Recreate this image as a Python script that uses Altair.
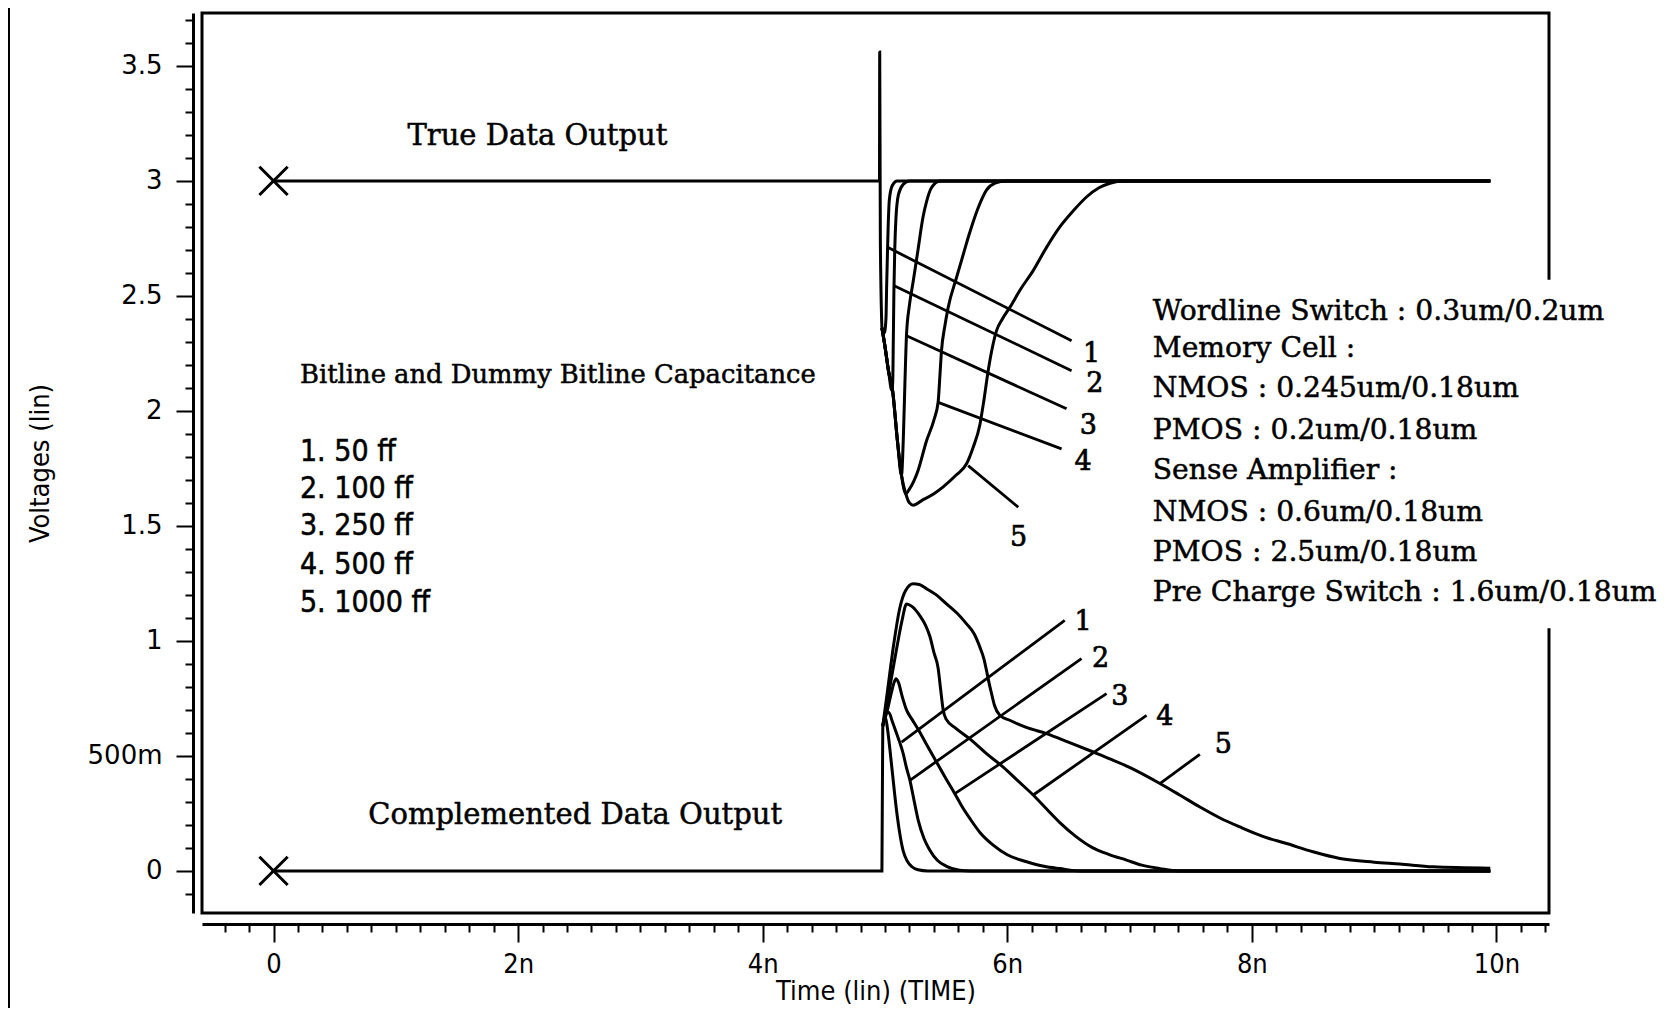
import altair as alt
import pandas as pd

# ---------------- data (time in ns, voltage in V) ----------------
TRUE_FLAT_T = [0.0, 4.955, 4.957, 4.962, 4.975]
TRUE_FLAT_V = [3.0, 3.0, 3.56, 2.75, 2.36]

TOP1_T = [4.975, 4.995, 5.008, 5.014, 5.02, 5.026, 5.036, 5.06, 5.1, 9.95]
TOP1_V = [2.36, 2.34, 2.40, 2.55, 2.68, 2.80, 2.92, 2.98, 3.0, 3.0]

TOP2_T = [4.975, 5.0, 5.03, 5.055, 5.063, 5.068, 5.073, 5.08, 5.09, 5.11, 5.15, 5.2, 9.95]
TOP2_V = [2.36, 2.28, 2.17, 2.09, 2.12, 2.30, 2.52, 2.70, 2.84, 2.94, 2.985, 3.0, 3.0]

TOP3_T = [4.975, 5.0, 5.03, 5.062, 5.1, 5.135, 5.15, 5.163, 5.176, 5.2, 5.23, 5.27,
          5.31, 5.34, 5.38, 5.45, 9.95]
TOP3_V = [2.36, 2.28, 2.17, 2.09, 1.88, 1.72, 1.88, 2.12, 2.33, 2.46, 2.56, 2.70,
          2.84, 2.91, 2.97, 3.0, 3.0]

TOP4_T = [4.975, 5.0, 5.03, 5.062, 5.1, 5.135, 5.17, 5.2, 5.27, 5.34, 5.40, 5.435,
          5.45, 5.462, 5.49, 5.517, 5.585, 5.64, 5.69, 5.76, 5.83, 5.9, 5.99, 9.95]
TOP4_V = [2.36, 2.28, 2.17, 2.09, 1.88, 1.72, 1.64, 1.66, 1.74, 1.87, 1.96, 2.04,
          2.16, 2.26, 2.37, 2.45, 2.58, 2.68, 2.77, 2.88, 2.96, 2.99, 3.0, 3.0]

TOP5_T = [4.975, 5.0, 5.03, 5.062, 5.1, 5.135, 5.17, 5.2, 5.231, 5.30, 5.40, 5.476,
          5.58, 5.667, 5.72, 5.776, 5.81, 5.844, 5.88, 5.913, 5.96, 6.021, 6.11,
          6.212, 6.32, 6.43, 6.54, 6.648, 6.75, 6.84, 6.95, 9.95]
TOP5_V = [2.36, 2.28, 2.17, 2.09, 1.88, 1.72, 1.64, 1.60, 1.59, 1.61, 1.64, 1.67,
          1.72, 1.77, 1.84, 1.94, 2.05, 2.175, 2.28, 2.35, 2.40, 2.45, 2.53,
          2.61, 2.71, 2.80, 2.87, 2.93, 2.97, 2.99, 3.0, 3.0]

COMP_FLAT_T = [0.0, 4.975, 4.982]
COMP_FLAT_V = [0.0, 0.0, 0.63]

BOT1_T = [4.982, 4.995, 5.005, 5.02, 5.04, 5.06, 5.08, 5.10, 5.125, 5.15, 5.18,
          5.22, 5.27, 5.35, 9.95]
BOT1_V = [0.63, 0.66, 0.665, 0.62, 0.53, 0.43, 0.33, 0.24, 0.15, 0.085, 0.045,
          0.018, 0.005, 0.0, 0.0]

BOT2_T = [4.982, 5.0, 5.015, 5.03, 5.06, 5.095, 5.12, 5.149, 5.175, 5.204, 5.24,
          5.272, 5.32, 5.367, 5.43, 5.503, 5.61, 5.7, 9.95]
BOT2_V = [0.63, 0.67, 0.69, 0.69, 0.65, 0.597, 0.56, 0.51, 0.45, 0.394, 0.30,
          0.22, 0.14, 0.09, 0.045, 0.02, 0.003, 0.0, 0.0]

BOT3_T = [4.982, 5.02, 5.05, 5.075, 5.09, 5.11, 5.14, 5.176, 5.22, 5.27, 5.34,
          5.42, 5.50, 5.571, 5.63, 5.694, 5.78, 5.885, 6.0, 6.158, 6.3, 6.43, 6.6, 9.95]
BOT3_V = [0.63, 0.70, 0.77, 0.82, 0.836, 0.82, 0.76, 0.70, 0.66, 0.617, 0.55,
          0.475, 0.40, 0.336, 0.28, 0.228, 0.165, 0.112, 0.07, 0.04, 0.02, 0.01, 0.0, 0.0]

BOT4_T = [4.982, 5.02, 5.06, 5.10, 5.14, 5.176, 5.22, 5.286, 5.33, 5.367, 5.40,
          5.435, 5.455, 5.476, 5.50, 5.58, 5.694, 5.83, 5.967, 6.09, 6.212, 6.32,
          6.43, 6.56, 6.70, 6.84, 6.975, 7.1, 7.25, 7.4, 9.95]
BOT4_V = [0.63, 0.74, 0.86, 0.98, 1.09, 1.161, 1.15, 1.109, 1.07, 1.02, 0.95,
          0.88, 0.79, 0.70, 0.66, 0.62, 0.574, 0.51, 0.451, 0.39, 0.33, 0.27,
          0.21, 0.15, 0.10, 0.07, 0.047, 0.025, 0.01, 0.0, 0.0]

BOT5_T = [4.982, 5.02, 5.07, 5.12, 5.17, 5.231, 5.28, 5.34, 5.42, 5.503, 5.59,
          5.667, 5.73, 5.776, 5.81, 5.83, 5.85, 5.872, 5.895, 5.939, 6.02, 6.15,
          6.321, 6.50, 6.703, 6.85, 7.0, 7.248, 7.41, 7.575, 7.74, 7.902, 8.09,
          8.284, 8.5, 8.72, 9.0, 9.21, 9.48, 9.95]
BOT5_V = [0.63, 0.78, 0.98, 1.14, 1.22, 1.248, 1.245, 1.227, 1.20, 1.161, 1.12,
          1.074, 1.03, 0.973, 0.92, 0.872, 0.82, 0.77, 0.72, 0.677, 0.655, 0.625,
          0.597, 0.56, 0.517, 0.485, 0.45, 0.38, 0.33, 0.278, 0.23, 0.191, 0.15,
          0.119, 0.083, 0.054, 0.038, 0.03, 0.018, 0.012]

# leader lines (start on curve -> end near number label)
TOP_LEAD_T0 = [5.026, 5.075, 5.176, 5.435, 5.68]
TOP_LEAD_V0 = [2.71, 2.544, 2.327, 2.037, 1.762]
TOP_LEAD_T1 = [6.526, 6.526, 6.485, 6.444, 6.09]
TOP_LEAD_V1 = [2.305, 2.175, 2.009, 1.835, 1.581]
TOP_LABEL_T = [6.689, 6.716, 6.662, 6.621, 6.092]
TOP_LABEL_V = [2.248, 2.117, 1.936, 1.777, 1.447]

BOT_LEAD_T0 = [5.136, 5.204, 5.571, 6.212, 7.248]
BOT_LEAD_V0 = [0.56, 0.394, 0.336, 0.33, 0.38]
BOT_LEAD_T1 = [6.47, 6.607, 6.812, 7.139, 7.575]
BOT_LEAD_V1 = [1.089, 0.923, 0.771, 0.676, 0.507]
BOT_LABEL_T = [6.62, 6.763, 6.921, 7.289, 7.766]
BOT_LABEL_V = [1.082, 0.922, 0.756, 0.669, 0.546]

CURVE_IDS = ["1", "2", "3", "4", "5"]

MARK_T = [0.0, 0.0]
MARK_V = [3.0, 0.0]

HEAD_TEXT = ["True Data Output", "Complemented Data Output"]
HEAD_T = [2.158, 2.467]
HEAD_V = [3.195, 0.245]

CAP_TITLE = ["Bitline and Dummy Bitline Capacitance"]
CAP_TITLE_T = [0.216]
CAP_TITLE_V = [2.155]

CAP_LIST = ["1. 50 ff", "2. 100 ff", "3. 250 ff", "4. 500 ff", "5. 1000 ff"]
CAP_LIST_T = [0.216] * 5
CAP_LIST_V = [1.822, 1.66, 1.498, 1.332, 1.165]

SIZE_TEXT = ["Wordline Switch : 0.3um/0.2um", "Memory Cell :",
             "NMOS : 0.245um/0.18um", "PMOS : 0.2um/0.18um",
             "Sense Amplifier :", "NMOS : 0.6um/0.18um",
             "PMOS  : 2.5um/0.18um", "Pre Charge Switch : 1.6um/0.18um"]
SIZE_T = [7.19] * 8
SIZE_V = [2.431, 2.271, 2.095, 1.914, 1.738, 1.558, 1.383, 1.207]

# white patch where the text block breaks the right frame line
MASK_T = [10.28]
MASK_T2 = [10.62]
MASK_V = [1.055]
MASK_V2 = [2.57]

X_TICKS = [round(-0.4 + 0.2 * i, 1) for i in range(55)]
Y_TICKS = [round(-0.1 + 0.1 * i, 1) for i in range(39)]

# ---------------- build tables ----------------
def series(name, ts, vs):
    return pd.DataFrame({"t": ts, "v": vs, "s": name, "i": list(range(len(ts)))})

curves = pd.concat([
    series("true_flat", TRUE_FLAT_T, TRUE_FLAT_V),
    series("top1", TOP1_T, TOP1_V), series("top2", TOP2_T, TOP2_V),
    series("top3", TOP3_T, TOP3_V), series("top4", TOP4_T, TOP4_V),
    series("top5", TOP5_T, TOP5_V),
    series("comp_flat", COMP_FLAT_T, COMP_FLAT_V),
    series("bot1", BOT1_T, BOT1_V), series("bot2", BOT2_T, BOT2_V),
    series("bot3", BOT3_T, BOT3_V), series("bot4", BOT4_T, BOT4_V),
    series("bot5", BOT5_T, BOT5_V),
], ignore_index=True)

leaders = pd.DataFrame({
    "t": TOP_LEAD_T0 + BOT_LEAD_T0, "v": TOP_LEAD_V0 + BOT_LEAD_V0,
    "t2": TOP_LEAD_T1 + BOT_LEAD_T1, "v2": TOP_LEAD_V1 + BOT_LEAD_V1,
})
leader_labels = pd.DataFrame({
    "t": TOP_LABEL_T + BOT_LABEL_T, "v": TOP_LABEL_V + BOT_LABEL_V,
    "txt": CURVE_IDS + CURVE_IDS,
})
markers = pd.DataFrame({"t": MARK_T, "v": MARK_V})
heads = pd.DataFrame({"t": HEAD_T, "v": HEAD_V, "txt": HEAD_TEXT})
cap_title = pd.DataFrame({"t": CAP_TITLE_T, "v": CAP_TITLE_V, "txt": CAP_TITLE})
cap_list = pd.DataFrame({"t": CAP_LIST_T, "v": CAP_LIST_V, "txt": CAP_LIST})
sizes = pd.DataFrame({"t": SIZE_T, "v": SIZE_V, "txt": SIZE_TEXT})
mask = pd.DataFrame({"t": MASK_T, "t2": MASK_T2, "v": MASK_V, "v2": MASK_V2})

# ---------------- styling ----------------
SERIF = "DejaVu Serif"
NARROW = "Liberation Sans Narrow, DejaVu Sans Condensed, Arial Narrow, sans-serif"

X_MAJOR = "abs(datum.value / 2 - round(datum.value / 2)) < 0.001"
Y_MAJOR = "abs(datum.value * 2 - round(datum.value * 2)) < 0.001"

x_axis = alt.Axis(
    values=X_TICKS,
    labelExpr=f"{X_MAJOR} ? (datum.value == 0 ? '0' : format(datum.value, '.0f') + 'n') : ''",
    tickSize={"condition": {"test": X_MAJOR, "value": 18}, "value": 8},
    tickWidth=2, tickColor="black", domainColor="black", domainWidth=3,
    offset=11, grid=False, labelOverlap=False, labelFlush=False,
    labelFont=NARROW, labelFontSize=27, labelColor="black", labelPadding=9,
    title="Time (lin) (TIME)", titleFont=NARROW, titleFontSize=27,
    titleFontWeight="normal", titleColor="black", titlePadding=1,
)
y_axis = alt.Axis(
    values=Y_TICKS,
    labelExpr=f"{Y_MAJOR} ? (abs(datum.value - 0.5) < 0.001 ? '500m' : format(datum.value, '.2~f')) : ''",
    tickSize={"condition": {"test": Y_MAJOR, "value": 17}, "value": 8},
    tickWidth=2, tickColor="black", domainColor="black", domainWidth=3,
    offset=9, grid=False, labelOverlap=False, labelFlush=False,
    labelFont="DejaVu Sans", labelFontSize=26, labelColor="black", labelPadding=14,
    title="Voltages (lin)", titleFont=NARROW, titleFontSize=27,
    titleFontWeight="normal", titleColor="black", titlePadding=33,
)

xs = alt.Scale(domain=[-0.585, 10.43], nice=False, zero=False)
ys = alt.Scale(domain=[-0.183, 3.73], nice=False, zero=False)
X = alt.X("t:Q", scale=xs, axis=x_axis)
Y = alt.Y("v:Q", scale=ys, axis=y_axis)

lines = alt.Chart(curves).mark_line(
    color="black", strokeWidth=3, interpolate="monotone"
).encode(x=X, y=Y, detail="s:N", order="i:Q")

lead = alt.Chart(leaders).mark_rule(color="black", strokeWidth=2.8).encode(
    x=X, y=Y, x2="t2:Q", y2="v2:Q")

mask_layer = alt.Chart(mask).mark_rect(color="white").encode(
    x=X, y=Y, x2="t2:Q", y2="v2:Q")

marks = alt.Chart(markers).mark_point(
    shape="M-1,-1L1,1M-1,1L1,-1", size=800, filled=False,
    color="black", strokeWidth=3, opacity=1
).encode(x=X, y=Y)

def texts(df, size, font=SERIF, align="left", sw=0.5):
    return alt.Chart(df).mark_text(
        align=align, baseline="middle", font=font, fontSize=size, color="black",
        stroke="black", strokeWidth=sw
    ).encode(x=X, y=Y, text="txt:N")

border = alt.Chart(markers).mark_rule(color="black", strokeWidth=2).encode(
    x=alt.value(-193), y=alt.value(-5), y2=alt.value(995))

chart = alt.layer(
    border,
    mask_layer,
    lines,
    lead,
    marks,
    texts(heads, 29, align="center"),
    texts(cap_title, 25.8),
    texts(cap_list, 30, font=NARROW),
    texts(sizes, 28.2),
    texts(leader_labels, 27, align="center", sw=0.7),
).properties(
    width=1347, height=900,
    padding={"left": 194, "top": 5, "right": 112, "bottom": 95},
    autosize=alt.AutoSizeParams(type="none"),
    background="white",
).configure_view(stroke="black", strokeWidth=3)

chart.save("out.html", embed_options={"renderer": "svg", "actions": False})
